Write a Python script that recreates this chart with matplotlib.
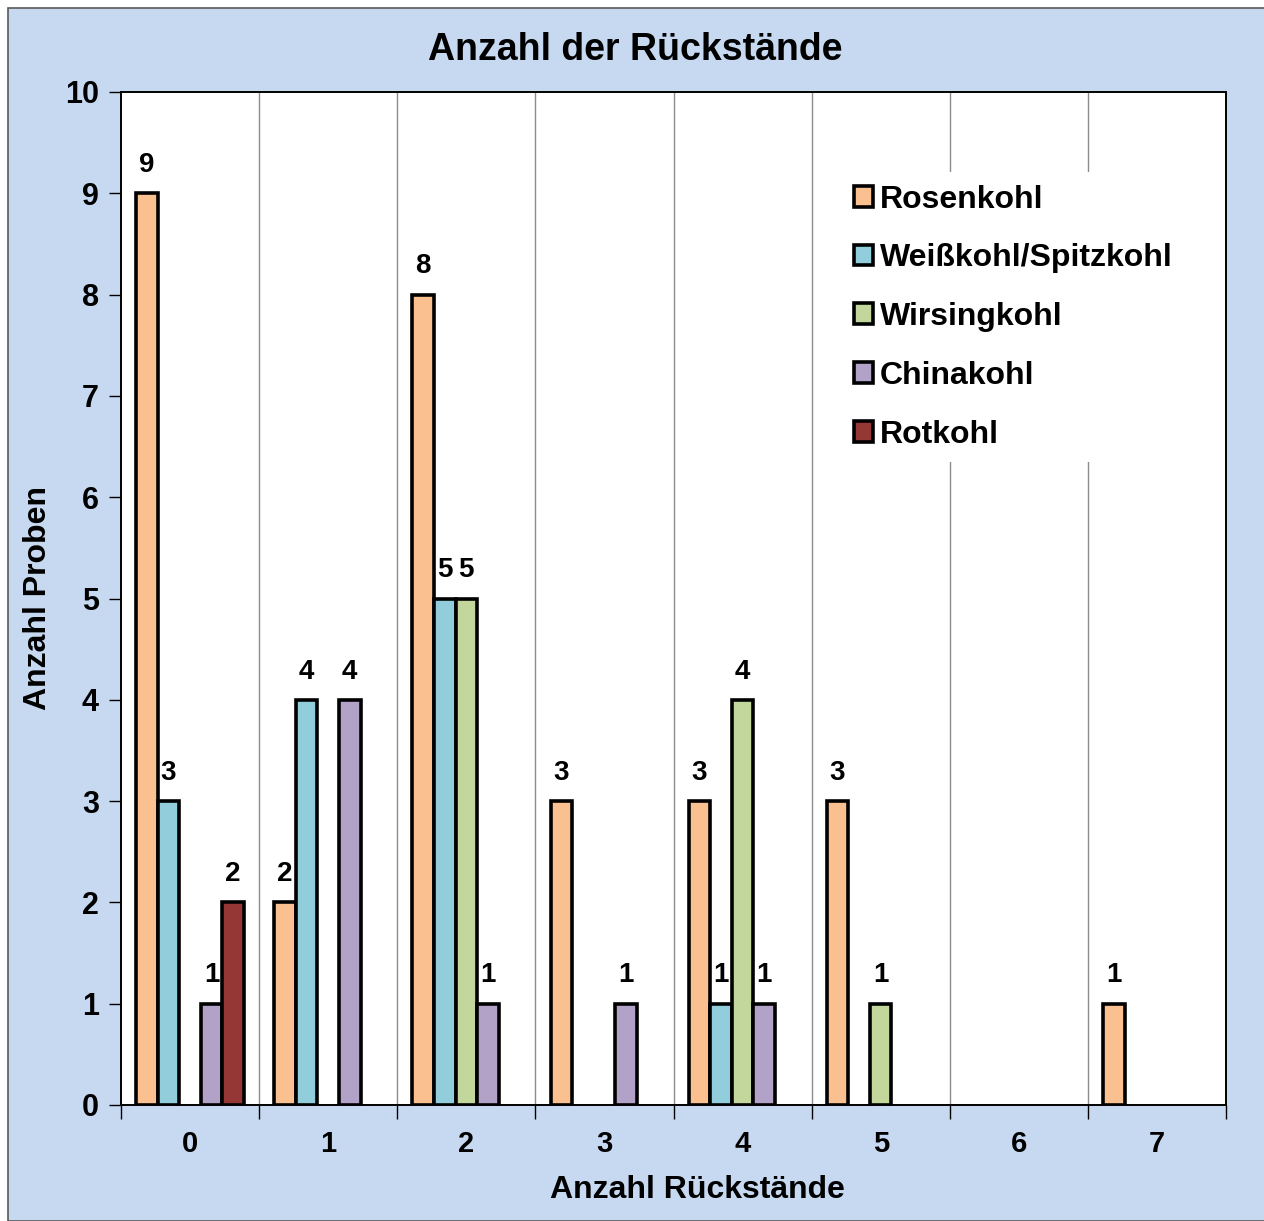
import numpy as np
import matplotlib
matplotlib.use("Agg")
import matplotlib.pyplot as plt
from matplotlib.patches import Rectangle, Patch

plt.rcParams['font.family'] = ['Liberation Sans', 'DejaVu Sans']
plt.rcParams['font.weight'] = 'bold'

# data
categories = ['0', '1', '2', '3', '4', '5', '6', '7']
series = ['Rosenkohl', 'Weißkohl/Spitzkohl', 'Wirsingkohl', 'Chinakohl', 'Rotkohl']
rosenkohl = [9, 2, 8, 3, 3, 3, 0, 1]
weisskohl = [3, 4, 5, 0, 1, 0, 0, 0]
wirsingkohl = [0, 0, 5, 0, 4, 1, 0, 0]
chinakohl = [1, 4, 1, 1, 1, 0, 0, 0]
rotkohl = [2, 0, 0, 0, 0, 0, 0, 0]
colors = ['#FAC090', '#92CDDC', '#C3D69B', '#B3A2C7', '#953735']

W, H = 1264, 1221
fig = plt.figure(figsize=(W / 100, H / 100), dpi=100)
fig.patch.set_facecolor('white')

# blue chart area with grey border
bg = Rectangle((8 / W, 0), 1.0, 1 - 8 / H, transform=fig.transFigure,
               facecolor='#C6D9F1', edgecolor='#595959', linewidth=1.2, zorder=-10)
fig.add_artist(bg)

ax = fig.add_axes([121 / W, 1 - 1105 / H, (1226 - 121) / W, (1105 - 92) / H])
ax.set_facecolor('white')

x = np.arange(len(categories))
bw = 0.156
all_vals = [rosenkohl, weisskohl, wirsingkohl, chinakohl, rotkohl]
handles = []
for i, (name, vals, c) in enumerate(zip(series, all_vals, colors)):
    bars = ax.bar(x + (i - 2) * bw, vals, bw, color=c, edgecolor='black',
                  linewidth=2.6, zorder=3)
    # empty cells are not drawn
    for b, v in zip(bars, vals):
        if v == 0:
            b.set_visible(False)
    labels = [str(v) if v > 0 else '' for v in vals]
    ax.bar_label(bars, labels=labels, padding=11, fontsize=20, fontweight='bold')
    handles.append(Patch(facecolor=c, edgecolor='black', linewidth=2.6, label=name))

ax.set_xlim(-0.5, 7.5)
ax.set_ylim(0, 10)
ax.set_yticks(range(0, 11))
ax.tick_params(axis='y', direction='out', length=9, width=1, labelsize=22, pad=7)
ax.set_xticks(x)
ax.set_xticklabels(categories)
ax.tick_params(axis='x', which='major', length=0, labelsize=21, pad=18)
ax.set_xticks(np.arange(-0.5, 8.0, 1.0), minor=True)
ax.tick_params(axis='x', which='minor', direction='out', length=10, width=1)
for b in np.arange(0.5, 7.0, 1.0):
    ax.axvline(b, color='#8C8C8C', linewidth=1, zorder=1)

for s in ax.spines.values():
    s.set_color('black')
    s.set_linewidth(1.4)

leg = ax.legend(handles=handles, loc='upper left', bbox_to_anchor=(0.637, 0.937),
                frameon=True, fancybox=False, edgecolor='none', facecolor='white',
                framealpha=1, prop={'size': 23, 'weight': 'bold'}, handlelength=0.62,
                handleheight=0.62, handletextpad=0.2, labelspacing=0.9,
                borderpad=0.4)
leg.set_zorder(5)

fig.text(635 / W, 1 - 50 / H, 'Anzahl der Rückstände', ha='center', va='center',
         fontsize=27, fontweight='bold')
fig.text(697 / W, 1 - 1190 / H, 'Anzahl Rückstände', ha='center', va='center',
         fontsize=23, fontweight='bold')
fig.text(38 / W, 1 - 598 / H, 'Anzahl Proben', ha='center', va='center',
         rotation=90, fontsize=23, fontweight='bold')

fig.savefig('out.png', dpi=100)
